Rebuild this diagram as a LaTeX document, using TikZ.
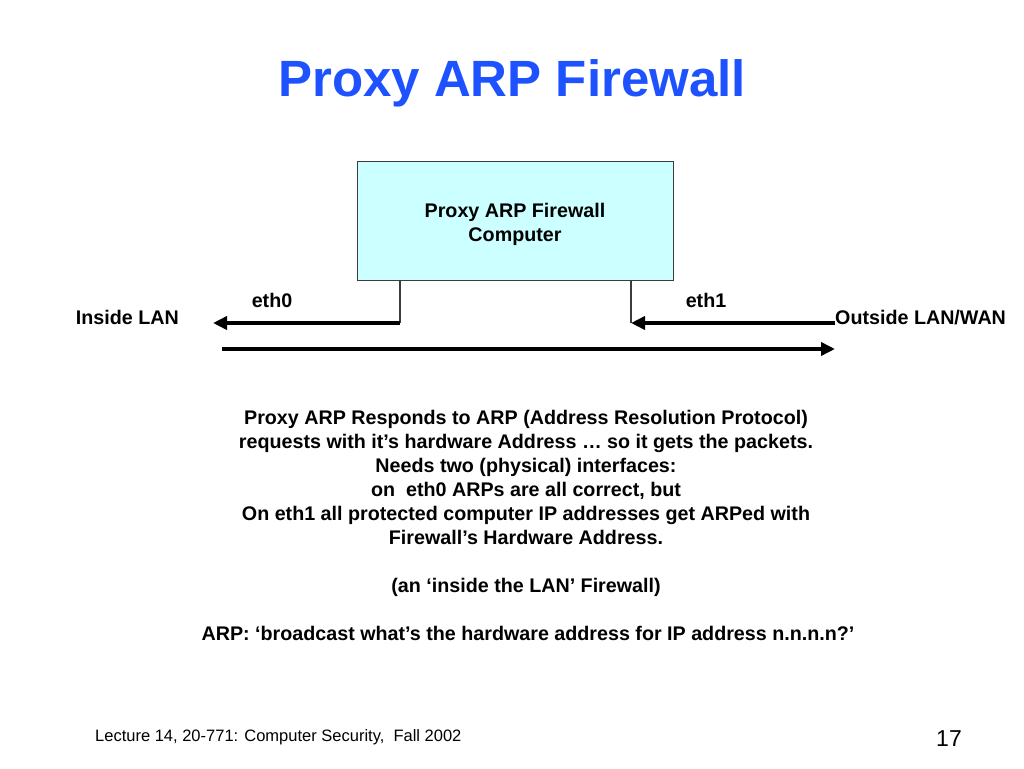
\documentclass[tikz,border=0pt]{standalone}
\usepackage{fontspec}
\setmainfont{Liberation Sans}
\usetikzlibrary{arrows.meta}
\definecolor{titleblue}{RGB}{30,82,255}
\definecolor{boxfill}{RGB}{204,255,255}
\definecolor{boxline}{RGB}{60,60,60}
\tikzset{
  bodytext/.style={font=\fontsize{19.7}{24}\selectfont\bfseries, anchor=base, inner sep=0pt},
  fwbox/.style={draw=boxline, line width=1pt, fill=boxfill, minimum width=316pt, minimum height=119pt, inner sep=0pt},
  boxtext/.style={align=center, inner sep=0pt, font=\fontsize{19.7}{24}\selectfont\bfseries},
  portline/.style={draw=boxline, line width=1.3pt},
  thickarrow/.style={line width=4pt, -{Triangle[length=14pt,width=13pt]}},
}
\begin{document}
\begin{tikzpicture}[x=1pt,y=-1pt]
\useasboundingbox[fill=white] (0,0) rectangle (1024,768);
\node[anchor=base, text=titleblue, font=\fontsize{51}{60}\selectfont\bfseries] (title) at (512,96) {Proxy ARP Firewall};
\node[fwbox] (fw) at (515,220.5) {};
\node[boxtext] (fwlabel) at (515,224.5) {Proxy ARP Firewall\\Computer};
\coordinate (e0) at (400,323);
\coordinate (e1) at (631,323);
\coordinate (insideEnd) at (213,323);
\coordinate (outsideStart) at (835,323);
\coordinate (busStart) at (222,349);
\coordinate (busEnd) at (835,349);
\draw[portline] (fw.south -| e0) -- (e0);
\draw[portline] (fw.south -| e1) -- (e1);
\draw[thickarrow] (e0) -- (insideEnd);
\draw[thickarrow] (outsideStart) -- (e1);
\draw[thickarrow] (busStart) -- (busEnd);
\node[bodytext] (eth0) at (272,307) {eth0};
\node[bodytext] (eth1) at (706,307) {eth1};
\node[bodytext, anchor=base east] (inside) at (179,324) {Inside LAN};
\node[bodytext, anchor=base west] (outside) at (835,324) {Outside LAN/WAN};
\node[bodytext] (l1) at (526,424) {Proxy ARP Responds to ARP (Address Resolution Protocol)};
\node[bodytext] (l2) at (526,448) {requests with it’s hardware Address … so it gets the packets.};
\node[bodytext] (l3) at (526,472) {Needs two (physical) interfaces:};
\node[bodytext] (l4) at (526,496) {on\ \ eth0 ARPs are all correct, but};
\node[bodytext] (l5) at (526,520) {On eth1 all protected computer IP addresses get ARPed with};
\node[bodytext] (l6) at (526,544) {Firewall’s Hardware Address.};
\node[bodytext] (l7) at (526,592) {(an ‘inside the LAN’ Firewall)};
\node[bodytext] (l8) at (528,640) {ARP: ‘broadcast what’s the hardware address for IP address n.n.n.n?’};
\node[anchor=base west, inner sep=0pt, font=\fontsize{16.5}{20}\selectfont] (footer) at (95,741) {Lecture 14, 20-771: Computer Security,\ \ Fall 2002};
\node[anchor=base east, inner sep=0pt, font=\fontsize{23}{28}\selectfont] (page) at (962,746) {17};
\end{tikzpicture}
\end{document}
